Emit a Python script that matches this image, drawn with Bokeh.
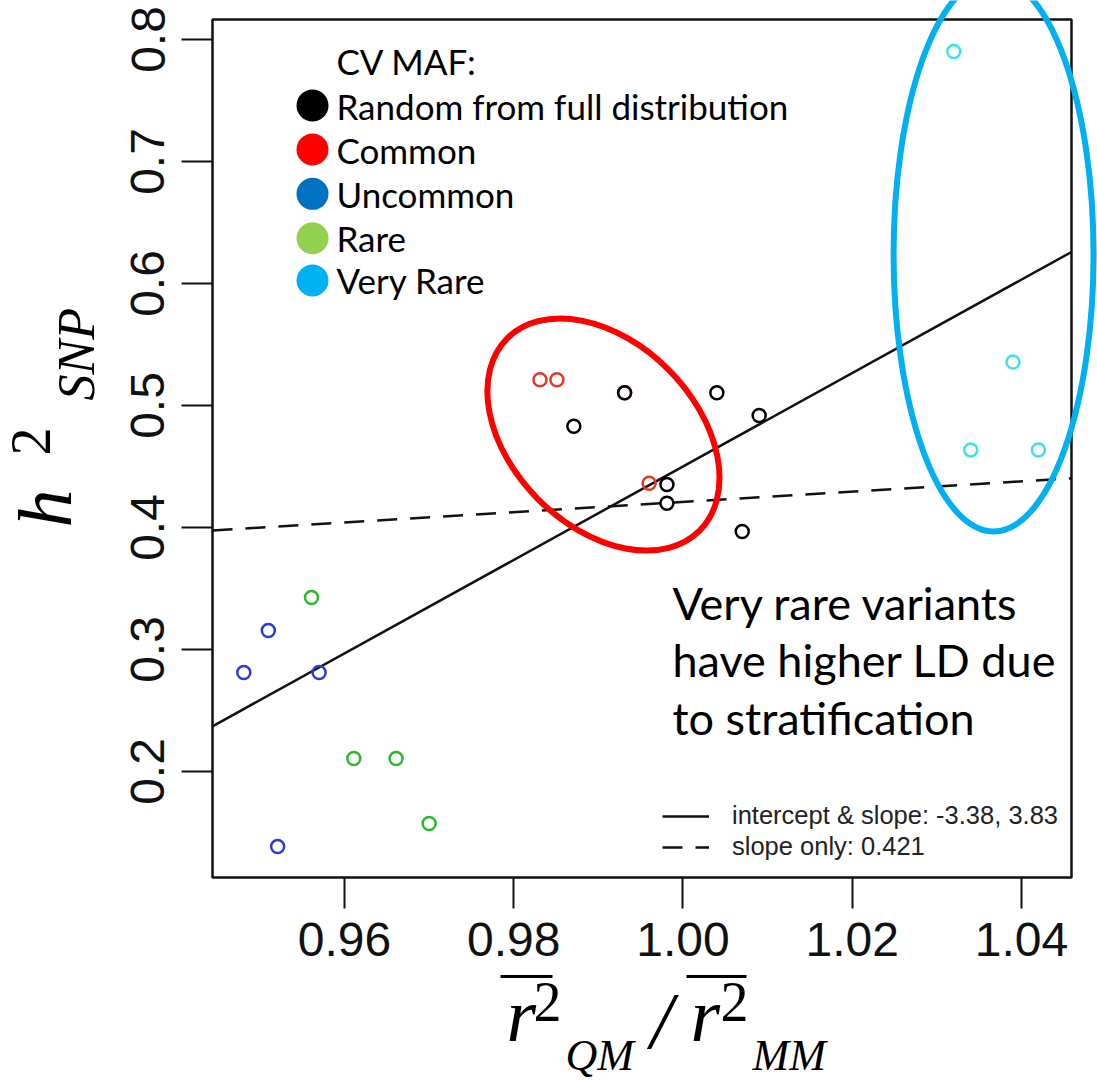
from bokeh.plotting import figure
from bokeh.layouts import row, column
from bokeh.models import (Range1d, FixedTicker, NumeralTickFormatter, Label,
                          Legend, LegendItem)
from bokeh.core.properties import value
from bokeh.embed import file_html
from bokeh.resources import INLINE

# h2_SNP against the LD ratio r2(QM)/r2(MM), one group per causal-variant MAF class
random_x = [0.9871, 0.9931, 0.9981, 0.9981, 1.0040, 1.0090, 1.0070]
random_y = [0.4830, 0.5104, 0.4352, 0.4199, 0.5104, 0.4918, 0.3967]
common_x = [0.9831, 0.9851, 0.9931, 0.9960]
common_y = [0.5211, 0.5211, 0.5104, 0.4363]
uncommon_x = [0.9481, 0.9510, 0.9570, 0.9521]
uncommon_y = [0.2811, 0.3156, 0.2811, 0.1385]
rare_x = [0.9561, 0.9611, 0.9661, 0.9700]
rare_y = [0.3426, 0.2107, 0.2107, 0.1574]
very_rare_x = [1.0320, 1.0390, 1.0340, 1.0420]
very_rare_y = [0.7902, 0.5356, 0.4636, 0.4636]

# fitted lines
fit_intercept = -3.38
fit_slope = 3.83
origin_slope = 0.421

x_ticks = [0.96, 0.98, 1.00, 1.02, 1.04]
y_ticks = [0.2, 0.3, 0.4, 0.5, 0.6, 0.7, 0.8]

legend_title = "CV MAF:"
legend_groups = ["Random from full distribution", "Common", "Uncommon", "Rare", "Very Rare"]
legend_colors = ["#000000", "#FF0000", "#0070C0", "#92D050", "#00B0F0"]
legend_y = [0.7459, 0.7098, 0.6735, 0.6371, 0.6025]

# plotting box limits
box_x = [0.944402, 1.045909]
box_y = [0.113115, 0.816393]

SERIF = "Liberation Serif"

p = figure(width=992, height=970, output_backend="svg", toolbar_location=None,
           x_range=Range1d(0.943575, 1.048981), y_range=Range1d(0.107377, 0.831967),
           min_border_left=100, min_border_right=0, min_border_top=0, min_border_bottom=86)
p.outline_line_color = None
p.grid.visible = False

for ax in (p.xaxis[0], p.yaxis[0]):
    ax.axis_line_color = None
    ax.major_tick_out = 24
    ax.major_tick_in = 7
    ax.major_tick_line_width = 2
    ax.major_tick_line_color = "#111111"
    ax.minor_tick_line_color = None
    ax.major_label_text_font = "Liberation Sans"
    ax.major_label_text_font_size = "48px"
    ax.major_label_text_color = "#111111"

p.xaxis.ticker = FixedTicker(ticks=x_ticks)
p.xaxis.formatter = NumeralTickFormatter(format="0.00")
p.xaxis.major_label_standoff = 14
p.yaxis.ticker = FixedTicker(ticks=y_ticks)
p.yaxis.formatter = NumeralTickFormatter(format="0.0")
p.yaxis.major_label_orientation = "vertical"
p.yaxis.major_label_standoff = 17

# frame box
p.quad(left=[box_x[0]], right=[box_x[1]], bottom=[box_y[0]], top=[box_y[1]],
       fill_color=None, line_color="#111111", line_width=2.5)

# regression lines
fit_ys = [fit_intercept + fit_slope * x for x in box_x]
origin_ys = [origin_slope * x for x in box_x]
fit_line = p.line(box_x, fit_ys, line_color="#111111", line_width=2.5)
origin_line = p.line(box_x, origin_ys, line_color="#111111", line_width=2.5, line_dash="20 13")

# points
ring = dict(marker="circle", size=13, fill_color=None, line_width=2.5)
p.scatter(common_x, common_y, line_color="#E03A2A", **ring)
p.scatter(uncommon_x, uncommon_y, line_color="#2B3BD6", **ring)
p.scatter(rare_x, rare_y, line_color="#2DB82D", **ring)
p.scatter(very_rare_x, very_rare_y, line_color="#3DE3E3", **ring)
p.scatter(random_x, random_y, line_color="#000000", **ring)

# highlighted groups
p.ellipse(x=[0.9906], y=[0.4762], width=272, height=184, angle=-45, angle_units="deg",
          width_units="screen", height_units="screen",
          fill_color=None, line_color="#FF0000", line_width=6)
p.ellipse(x=[1.0367], y=[0.6238], width=200, height=554, angle=0, angle_units="deg",
          width_units="screen", height_units="screen",
          fill_color=None, line_color="#00B0F0", line_width=6)

# colour key
p.scatter([0.95622] * len(legend_groups), legend_y, marker="circle", size=32,
          fill_color=legend_colors, line_color=None)
p.text([0.95905] * len(legend_groups), legend_y, text=legend_groups,
       text_font=value("Lato"), text_font_size="35px", text_baseline="middle",
       text_color="#000000")
p.text([0.95905], [0.7820], text=[legend_title], text_font=value("Lato"),
       text_font_size="35px", text_baseline="middle", text_color="#000000")

# note
note_lines = ["Very rare variants", "have higher LD due", "to stratification"]
for txt, yy in zip(note_lines, [0.33852, 0.29180, 0.24426]):
    p.add_layout(Label(x=0.998759, y=yy, text=txt, text_font="Lato",
                       text_font_size="45px", text_color="#000000",
                       text_baseline="alphabetic"))

# line key
legend = Legend(items=[LegendItem(label="intercept & slope: -3.38, 3.83", renderers=[fit_line]),
                       LegendItem(label="slope only: 0.421", renderers=[origin_line])],
                location=(457, 23), padding=0, margin=0, spacing=2,
                glyph_width=47, glyph_height=26, label_height=26, label_standoff=23,
                label_text_font="Liberation Sans", label_text_font_size="25.5px",
                label_text_color="#222222", border_line_color=None,
                background_fill_alpha=0)
p.add_layout(legend)

# y-axis title: h^2_SNP (rotated)
ylab = figure(width=105, height=1081, output_backend="svg", toolbar_location=None,
              x_range=Range1d(0, 105), y_range=Range1d(0, 1081),
              x_axis_type=None, y_axis_type=None,
              min_border_left=0, min_border_right=0, min_border_top=0, min_border_bottom=0)
ylab.outline_line_color = None
ylab.grid.visible = False
for txt, xx, yy, size, style in [("h", 86, 554, "76px", "italic"),
                                 ("2", 49, 626, "56px", "normal"),
                                 ("SNP", 104, 681, "52px", "italic")]:
    ylab.text(x=[xx], y=[yy], text=[txt], angle=90, angle_units="deg",
              text_font=value(SERIF), text_font_style=style, text_font_size=size,
              text_baseline="bottom", text_align="left")

# x-axis title: mean r^2 (QM) / mean r^2 (MM), on the same x scale as the plot
xlab = figure(width=992, height=111, output_backend="svg", toolbar_location=None,
              x_range=p.x_range, y_range=Range1d(0, 111),
              x_axis_type=None, y_axis_type=None,
              min_border_left=100, min_border_right=0, min_border_top=0, min_border_bottom=0)
xlab.outline_line_color = None
xlab.grid.visible = False
title_parts = [("r", 0.979143, 25, "76px", "italic"),
               ("2", 0.982334, 61, "56px", "normal"),
               ("QM", 0.986115, 2, "44px", "italic"),
               ("/", 0.996160, 17, "80px", "italic"),
               ("r", 1.000886, 25, "76px", "italic"),
               ("2", 1.004431, 61, "56px", "normal"),
               ("MM", 1.008213, 2, "44px", "italic")]
for txt, xx, yy, size, style in title_parts:
    xlab.text(x=[xx], y=[yy], text=[txt], text_font=value(SERIF),
              text_font_style=style, text_font_size=size,
              text_baseline="bottom", text_align="left")
xlab.segment(x0=[0.978434, 1.000414], y0=[105, 105], x1=[0.984579, 1.007504], y1=[105, 105],
             line_color="#000000", line_width=3)

layout = row(ylab, column(p, xlab, spacing=0), spacing=0)
open("out.html", "w").write(file_html(layout, INLINE))
